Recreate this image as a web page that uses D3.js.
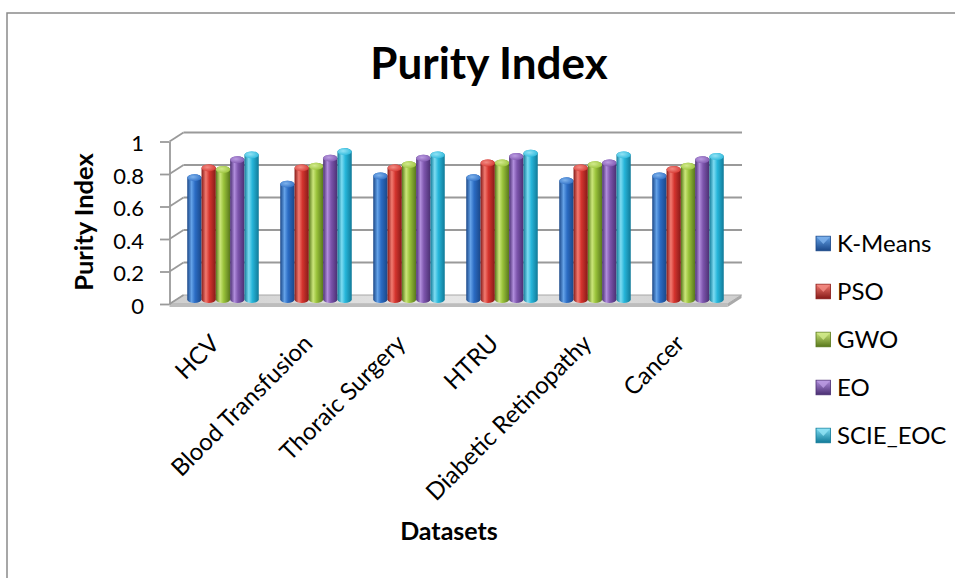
<!DOCTYPE html>
<html>
<head>
<meta charset="utf-8">
<script src="https://cdn.jsdelivr.net/npm/d3@7"></script>
<style>
  html, body { margin: 0; padding: 0; background: #ffffff; }
  svg { display: block; }
  text { font-family: Lato, "Open Sans", sans-serif; fill: #000; }
</style>
</head>
<body>
<svg id="chart" width="955" height="578"></svg>
<script>
// Purity index per dataset and algorithm
const categories = ["HCV", "Blood Transfusion", "Thoraic Surgery", "HTRU", "Diabetic Retinopathy", "Cancer"];
const seriesNames = ["K-Means", "PSO", "GWO", "EO", "SCIE_EOC"];
const kMeans  = [0.75, 0.71, 0.76, 0.75, 0.73, 0.76];
const pso     = [0.81, 0.81, 0.81, 0.84, 0.81, 0.80];
const gwo     = [0.80, 0.82, 0.83, 0.84, 0.83, 0.82];
const eo      = [0.86, 0.87, 0.87, 0.88, 0.84, 0.86];
const scieEoc = [0.89, 0.91, 0.89, 0.90, 0.89, 0.88];
const yTicks  = [0, 0.2, 0.4, 0.6, 0.8, 1];

const seriesValues = [kMeans, pso, gwo, eo, scieEoc];

// shading for each cylinder series: dark edge, highlight, body, cap
const palette = [
  { dark: "#1a4788", light: "#64a2e8", mid: "#2b6cc4", cap: "#7fb3ec" },
  { dark: "#861a18", light: "#f27a70", mid: "#d4342e", cap: "#f38c84" },
  { dark: "#58771c", light: "#cbe67a", mid: "#99c23a", cap: "#d2ea8c" },
  { dark: "#4a2f72", light: "#b08ddc", mid: "#7d55ad", cap: "#bb9ce2" },
  { dark: "#117a98", light: "#7ddcf2", mid: "#27b6da", cap: "#92e3f5" }
];

const svg = d3.select("#chart");
const defs = svg.append("defs");

palette.forEach((c, i) => {
  const g = defs.append("linearGradient").attr("id", "cyl" + i)
    .attr("x1", "0%").attr("x2", "100%").attr("y1", "0%").attr("y2", "0%");
  g.append("stop").attr("offset", "0%").attr("stop-color", c.dark);
  g.append("stop").attr("offset", "30%").attr("stop-color", c.light);
  g.append("stop").attr("offset", "55%").attr("stop-color", c.mid);
  g.append("stop").attr("offset", "100%").attr("stop-color", c.dark);
  const r = defs.append("radialGradient").attr("id", "cap" + i)
    .attr("cx", "40%").attr("cy", "40%").attr("r", "70%");
  r.append("stop").attr("offset", "0%").attr("stop-color", c.cap);
  r.append("stop").attr("offset", "100%").attr("stop-color", c.mid);
  const l = defs.append("linearGradient").attr("id", "leg" + i)
    .attr("x1", "0%").attr("x2", "0%").attr("y1", "0%").attr("y2", "100%");
  l.append("stop").attr("offset", "0%").attr("stop-color", c.light);
  l.append("stop").attr("offset", "100%").attr("stop-color", c.dark);
});

const floorGrad = defs.append("linearGradient").attr("id", "floorGrad")
  .attr("x1", "0%").attr("x2", "100%").attr("y1", "0%").attr("y2", "0%");
floorGrad.append("stop").attr("offset", "0%").attr("stop-color", "#cfcfcf");
floorGrad.append("stop").attr("offset", "50%").attr("stop-color", "#e6e6e6");
floorGrad.append("stop").attr("offset", "100%").attr("stop-color", "#cfcfcf");

// chart frame
svg.append("rect")
  .attr("x", 7).attr("y", 13).attr("width", 960).attr("height", 580)
  .attr("fill", "none").attr("stroke", "#8a8a8a").attr("stroke-width", 1.5);

// title
svg.append("text")
  .attr("x", 489).attr("y", 79)
  .attr("text-anchor", "middle")
  .attr("font-size", 44).attr("font-weight", "bold")
  .text("Purity Index");

// 3D geometry: front plane scales, depth shift toward the back wall
const depth = { dx: 14, dy: -9 };
const x = d3.scaleBand().domain(categories).range([169.5, 727.5])
  .paddingInner(0.231).paddingOuter(0.1155);
const xs = d3.scaleBand().domain(seriesNames).range([0, x.bandwidth()]);
const y = d3.scaleLinear().domain([0, 1]).range([304, 141.5]);

const x0 = 169.5, x1 = 727.5;
const gridColor = "#9a9a9a";

// floor slab
const floor = svg.append("g");
floor.append("path")
  .attr("d", `M${x0},${y(0)} L${x0 + depth.dx},${y(0) + depth.dy} L${x1 + depth.dx},${y(0) + depth.dy} L${x1},${y(0)} Z`)
  .attr("fill", "url(#floorGrad)").attr("stroke", "#a8a8a8").attr("stroke-width", 1);
floor.append("path")
  .attr("d", `M${x0},${y(0)} L${x1},${y(0)} L${x1},${y(0) + 3} L${x0},${y(0) + 3} Z`)
  .attr("fill", "#bdbdbd");
floor.append("path")
  .attr("d", `M${x1},${y(0)} L${x1 + depth.dx},${y(0) + depth.dy} L${x1 + depth.dx},${y(0) + depth.dy + 3} L${x1},${y(0) + 3} Z`)
  .attr("fill", "#a9a9a9");

// back-wall gridlines and side-wall connectors
const grid = svg.append("g").attr("stroke", gridColor).attr("stroke-width", 1.8).attr("fill", "none");
grid.selectAll("line.back").data(yTicks.filter(t => t > 0)).join("line")
  .attr("class", "back")
  .attr("x1", x0 + depth.dx).attr("x2", x1 + depth.dx + 0.5)
  .attr("y1", d => y(d) + depth.dy).attr("y2", d => y(d) + depth.dy);
grid.selectAll("line.side").data(yTicks).join("line")
  .attr("class", "side")
  .attr("x1", x0).attr("x2", x0 + depth.dx)
  .attr("y1", d => y(d)).attr("y2", d => y(d) + depth.dy);

// value axis on the front edge
const yAxis = d3.axisLeft(y).tickValues(yTicks).tickSize(9.5).tickSizeOuter(0).tickPadding(16)
  .tickFormat(d => d3.format("")(d));
const yg = svg.append("g").attr("transform", `translate(${x0},0)`).call(yAxis);
yg.selectAll("path, line").attr("stroke", gridColor).attr("stroke-width", 1.8);
yg.selectAll("text").attr("font-size", 22).attr("font-family", "Lato, sans-serif")
  .attr("fill", "#000").attr("dy", "0.43em");

// cylinders, placed at mid-depth of the floor
const mid = { dx: depth.dx / 2, dy: depth.dy / 2 };
const ry = 3.5;
const bars = [];
categories.forEach((cat, ci) => {
  seriesNames.forEach((s, si) => {
    bars.push({ cat, s, si, v: seriesValues[si][ci] });
  });
});

const barG = svg.append("g");
bars.forEach(b => {
  const w = xs.bandwidth();
  const left = x(b.cat) + xs(b.s) + mid.dx;
  const base = y(0) + mid.dy;
  const top = y(b.v) + mid.dy;
  const rx = w / 2;
  barG.append("path")
    .attr("d", `M${left},${top} L${left},${base} A${rx},${ry} 0 0 0 ${left + w},${base} L${left + w},${top} A${rx},${ry} 0 0 0 ${left},${top} Z`)
    .attr("fill", `url(#cyl${b.si})`);
  barG.append("ellipse")
    .attr("cx", left + rx).attr("cy", top)
    .attr("rx", rx).attr("ry", ry)
    .attr("fill", `url(#cap${b.si})`);
});

// category axis with slanted labels
const xAxis = d3.axisBottom(x).tickSize(0).tickPadding(0);
const xg = svg.append("g").attr("transform", "translate(0,339)").call(xAxis);
xg.select(".domain").remove();
xg.selectAll("text")
  .attr("font-size", 24).attr("font-family", "Lato, sans-serif").attr("fill", "#000")
  .attr("text-anchor", "end")
  .attr("x", -1).attr("y", 0).attr("dy", "0.35em")
  .attr("transform", "rotate(-45 -1 0)");

// axis titles
svg.append("text")
  .attr("transform", "translate(93,222) rotate(-90)")
  .attr("text-anchor", "middle")
  .attr("font-size", 25.5).attr("font-weight", "bold")
  .text("Purity Index");
svg.append("text")
  .attr("x", 449).attr("y", 540)
  .attr("text-anchor", "middle")
  .attr("font-size", 25).attr("font-weight", "bold")
  .text("Datasets");

// legend
const legendY = d3.scalePoint().domain(seriesNames).range([243.5, 435.5]);
const lg = svg.append("g");
seriesNames.forEach((s, i) => {
  const cy = legendY(s);
  lg.append("rect")
    .attr("x", 816).attr("y", cy - 7.3).attr("width", 14.6).attr("height", 14.6)
    .attr("fill", `url(#leg${i})`).attr("stroke", palette[i].dark).attr("stroke-width", 0.8);
  lg.append("path")
    .attr("d", `M${816.5},${cy - 6.8} L${830.1},${cy - 6.8} L${823.3},${cy + 0.5} Z`)
    .attr("fill", palette[i].cap).attr("opacity", 0.8);
  lg.append("text")
    .attr("x", 837).attr("y", cy + 8.5)
    .attr("font-size", 24)
    .text(s);
});
</script>
</body>
</html>
